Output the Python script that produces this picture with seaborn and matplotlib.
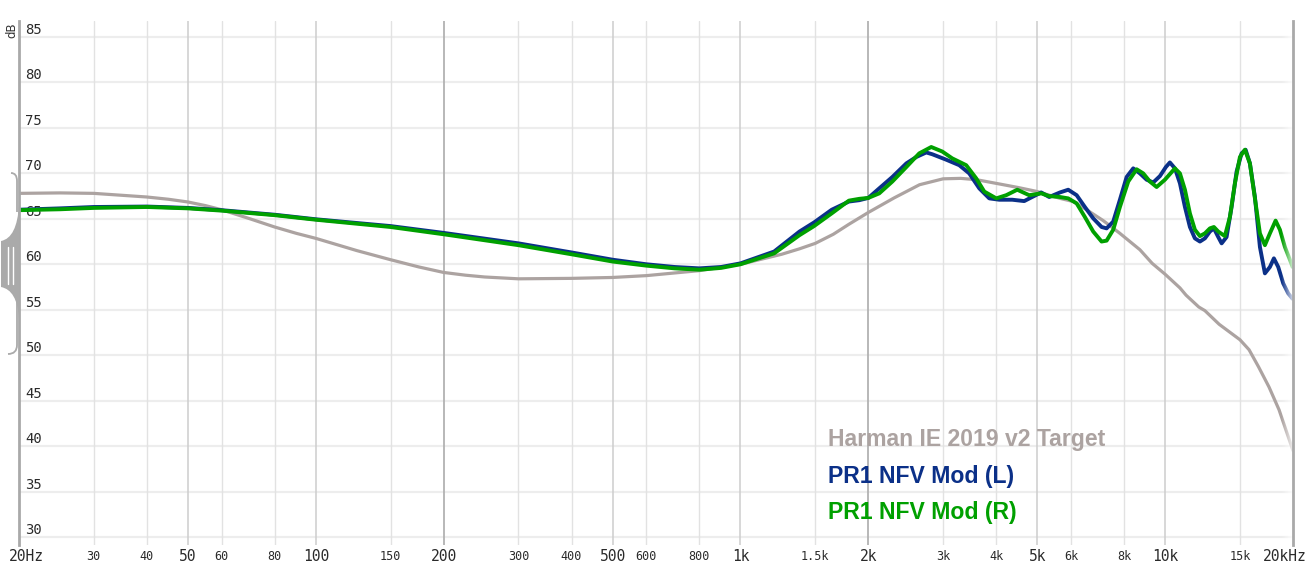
import numpy as np
import pandas as pd
import seaborn as sns
import matplotlib.pyplot as plt
import matplotlib.transforms as mtransforms
from matplotlib.path import Path
from matplotlib.patches import PathPatch
from matplotlib.ticker import NullLocator

W, H = 1315, 578

# frequency response data (Hz, dB)
freq_target = [20, 25, 30, 40, 45, 50, 55, 60, 70, 80, 90, 100, 125, 150, 175, 200, 225,
               250, 300, 400, 500, 600, 800, 1000, 1250, 1377, 1500, 1654, 1800, 2000,
               2300, 2640, 3000, 3300, 3600, 4000, 4500, 5000, 5652, 6076, 6532, 7148,
               7824, 8360, 8720, 9320, 10000, 10834, 11200, 12000, 12404, 13400, 15000,
               15760, 16600, 17560, 18540, 20000]
db_target = [67.8, 67.85, 67.8, 67.4, 67.15, 66.85, 66.45, 66.0, 65.0, 64.1, 63.4, 62.85,
             61.5, 60.5, 59.7, 59.1, 58.8, 58.6, 58.4, 58.45, 58.55, 58.75, 59.3, 60.0,
             61.1, 61.7, 62.3, 63.3, 64.4, 65.7, 67.3, 68.75, 69.4, 69.45, 69.3, 68.9,
             68.45, 68.0, 67.25, 66.9, 66.0, 64.8, 63.4, 62.3, 61.6, 60.1, 58.9, 57.4,
             56.6, 55.3, 54.9, 53.4, 51.7, 50.6, 48.7, 46.5, 44.0, 39.5]

freq_left = [20, 25, 30, 40, 50, 60, 80, 100, 150, 200, 300, 400, 500, 600, 700, 800,
             900, 1000, 1200, 1377, 1490, 1640, 1800, 1905, 2000, 2122, 2278, 2458,
             2594, 2738, 2830, 3052, 3274, 3456, 3650, 3853, 4067, 4364, 4657, 4862,
             5106, 5333, 5652, 5912, 6188, 6471, 6770, 7084, 7280, 7546, 7824, 8114,
             8410, 8720, 9044, 9374, 9720, 10040, 10260, 10544, 10834, 11132, 11436,
             11750, 12074, 12404, 12746, 13024, 13334, 13582, 13952, 14336, 14730,
             15134, 15468, 15832, 16268, 16716, 17174, 17646, 18032, 18460, 18968,
             19486, 19958]
db_left = [66.0, 66.15, 66.3, 66.35, 66.2, 65.95, 65.45, 64.95, 64.2, 63.45, 62.3, 61.3,
           60.5, 60.0, 59.7, 59.55, 59.7, 60.1, 61.4, 63.6, 64.6, 66.0, 66.9, 67.05,
           67.3, 68.35, 69.6, 71.1, 71.8, 72.3, 72.1, 71.5, 70.9, 70.0, 68.35, 67.25,
           67.1, 67.1, 66.95, 67.4, 67.9, 67.4, 67.9, 68.2, 67.6, 66.3, 65.05, 64.1,
           63.95, 64.7, 67.1, 69.6, 70.55, 70.0, 69.3, 69.0, 69.7, 70.7, 71.2, 70.55,
           68.9, 66.3, 64.1, 62.85, 62.5, 62.85, 63.6, 63.95, 63.0, 62.3, 63.0, 66.3,
           70.2, 72.2, 72.6, 71.1, 67.4, 61.9, 59.0, 59.7, 60.65, 59.7, 57.9, 56.8, 56.2]

freq_right = [20, 25, 30, 40, 50, 60, 80, 100, 150, 200, 300, 400, 500, 600, 700, 800,
              900, 1000, 1200, 1377, 1490, 1640, 1800, 1905, 2000, 2122, 2278, 2458,
              2636, 2813, 2987, 3152, 3400, 3590, 3750, 4002, 4224, 4484, 4784, 5106,
              5333, 5652, 5912, 6188, 6471, 6770, 7084, 7280, 7546, 7824, 8186, 8566,
              8878, 9206, 9548, 9986, 10544, 10834, 11132, 11436, 11750, 12074, 12404,
              12746, 13024, 13334, 13822, 14204, 14596, 14998, 15410, 15832, 16268,
              16716, 17174, 17646, 18200, 18630, 19142, 19666, 19958]
db_right = [65.95, 66.05, 66.2, 66.3, 66.15, 65.9, 65.4, 64.9, 64.1, 63.3, 62.1, 61.1,
            60.3, 59.85, 59.55, 59.4, 59.6, 60.0, 61.2, 63.2, 64.2, 65.6, 67.0, 67.2,
            67.3, 67.8, 69.1, 70.7, 72.2, 72.9, 72.4, 71.65, 70.9, 69.45, 68.0, 67.25,
            67.6, 68.2, 67.6, 67.8, 67.5, 67.4, 67.25, 66.7, 65.2, 63.6, 62.5, 62.6,
            63.8, 66.3, 69.1, 70.45, 70.0, 69.1, 68.5, 69.3, 70.55, 70.0, 68.2, 65.6,
            63.8, 63.1, 63.4, 63.95, 64.1, 63.6, 63.1, 65.2, 68.9, 71.8, 72.6, 71.1,
            67.25, 63.4, 62.1, 63.4, 64.8, 63.8, 61.9, 60.5, 59.7]

x_ticks = [20, 30, 40, 50, 60, 80, 100, 150, 200, 300, 400, 500, 600, 800, 1000, 1500,
           2000, 3000, 4000, 5000, 6000, 8000, 10000, 15000, 20000]
x_tick_labels = ["20Hz", "30", "40", "50", "60", "80", "100", "150", "200", "300", "400",
                 "500", "600", "800", "1k", "1.5k", "2k", "3k", "4k", "5k", "6k", "8k",
                 "10k", "15k", "20kHz"]
big_ticks = [20, 50, 100, 200, 500, 1000, 2000, 5000, 10000, 20000]
dark_lines = [200, 2000]
mid_lines = [50, 100, 500, 1000, 5000, 10000]
y_ticks = list(range(30, 90, 5))

names = ["Harman IE 2019 v2 Target", "PR1 NFV Mod (L)", "PR1 NFV Mod (R)"]
colors = ["#aca3a1", "#0b3088", "#00a000"]

sns.set_theme(style="white")
plt.rcParams["font.family"] = ["DejaVu Sans"]
plt.rcParams["lines.solid_joinstyle"] = "round"

fig = plt.figure(figsize=(W / 100, H / 100), dpi=100)
ax = fig.add_axes([19 / W, 33 / H, 1274 / W, 524 / H])
ax.set_xscale("log")

# vertical grid
for f in x_ticks[1:-1]:
    if f in dark_lines:
        ax.axvline(f, color="#b2b2b2", lw=1.3, zorder=1)
    elif f in mid_lines:
        ax.axvline(f, color="#cdcdcd", lw=1.1, zorder=1)
    else:
        ax.axvline(f, color="#e2e2e2", lw=1.0, zorder=1)

df_t = pd.DataFrame({"freq": freq_target, "db": db_target})
df_l = pd.DataFrame({"freq": freq_left, "db": db_left})
df_r = pd.DataFrame({"freq": freq_right, "db": db_right})
sns.lineplot(data=df_t, x="freq", y="db", color=colors[0], lw=2.3, ax=ax,
             estimator=None, sort=False)
sns.lineplot(data=df_l, x="freq", y="db", color=colors[1], lw=2.8, ax=ax,
             estimator=None, sort=False)
sns.lineplot(data=df_r, x="freq", y="db", color=colors[2], lw=2.8, ax=ax,
             estimator=None, sort=False)

ax.set_xlim(20, 20000)
ax.set_ylim(29.12, 86.76)
ax.set_xlabel("")
ax.set_ylabel("")

# fade the right ends of the curves
n_fade = 11
for i in range(n_fade):
    f0 = 20000 * 10 ** (-(n_fade - i) / 424.7)
    f1 = 20000 * 10 ** (-(n_fade - i - 1) / 424.7)
    ax.axvspan(f0, f1, color="white", alpha=0.8 * (i + 1) / n_fade, lw=0, zorder=2.2)

ax.yaxis.grid(True, color="#ededed", lw=1.6)
ax.xaxis.grid(False)
ax.set_axisbelow(True)

for side in ["top", "bottom"]:
    ax.spines[side].set_visible(False)
for side in ["left", "right"]:
    ax.spines[side].set_color("#a9a9a9")
    ax.spines[side].set_linewidth(2.0)

ax.set_yticks(y_ticks)
ax.tick_params(axis="y", length=0, pad=-4.3, labelsize=10, labelcolor="#2a2a2a")
for lab in ax.get_yticklabels():
    lab.set_ha("left")
    lab.set_va("bottom")
    lab.set_family("DejaVu Sans Mono")

ax.xaxis.set_minor_locator(NullLocator())
ax.set_xticks(x_ticks, labels=x_tick_labels)
ax.tick_params(axis="x", length=0, pad=8.6, labelcolor="#2a2a2a")
for f, lab in zip(x_ticks, ax.get_xticklabels()):
    lab.set_family("DejaVu Sans Mono")
    lab.set_va("center")
    lab.set_fontsize(10.5 if f in big_ticks else 8.5)
first = ax.get_xticklabels()[0]
first.set_transform(first.get_transform() +
                    mtransforms.ScaledTranslation(7 / 100, 0, fig.dpi_scale_trans))
last = ax.get_xticklabels()[-1]
last.set_transform(last.get_transform() +
                   mtransforms.ScaledTranslation(-8 / 100, 0, fig.dpi_scale_trans))

# legend as coloured labels
for i, (name, c) in enumerate(zip(names, colors)):
    fig.text(828 / W, 1 - (446 + 36.5 * i) / H, name, color=c, fontsize=16.6,
             fontweight="bold", family="Liberation Sans", va="baseline", ha="left")

fig.text(12 / W, 1 - 30 / H, "dB", rotation=90, fontsize=8.5, ha="center", va="center",
         color="#333333")

# scale widget on the left edge
px = mtransforms.Affine2D().scale(1 / W, -1 / H).translate(0, 1) + fig.transFigure
block = Path([(19, 205), (17, 238), (1, 241), (1, 287), (17, 290), (19, 318), (19, 205)],
             [Path.MOVETO, Path.CURVE3, Path.CURVE3, Path.LINETO, Path.CURVE3,
              Path.CURVE3, Path.CLOSEPOLY])
fig.add_artist(PathPatch(block, facecolor="#aaaaaa", edgecolor="none", transform=px))
top = Path([(11, 173), (17, 173), (17, 181), (17, 212)],
           [Path.MOVETO, Path.CURVE3, Path.CURVE3, Path.LINETO])
bot = Path([(17, 296), (17, 345), (17, 354), (8, 354)],
           [Path.MOVETO, Path.LINETO, Path.CURVE3, Path.CURVE3])
for p in (top, bot):
    fig.add_artist(PathPatch(p, facecolor="none", edgecolor="#aaaaaa", lw=1.3, transform=px))
for xw in (8, 13):
    fig.add_artist(plt.Line2D([xw, xw], [247, 284], color="white", lw=1.0, transform=px))

fig.savefig("out.png", dpi=100, facecolor="white")
